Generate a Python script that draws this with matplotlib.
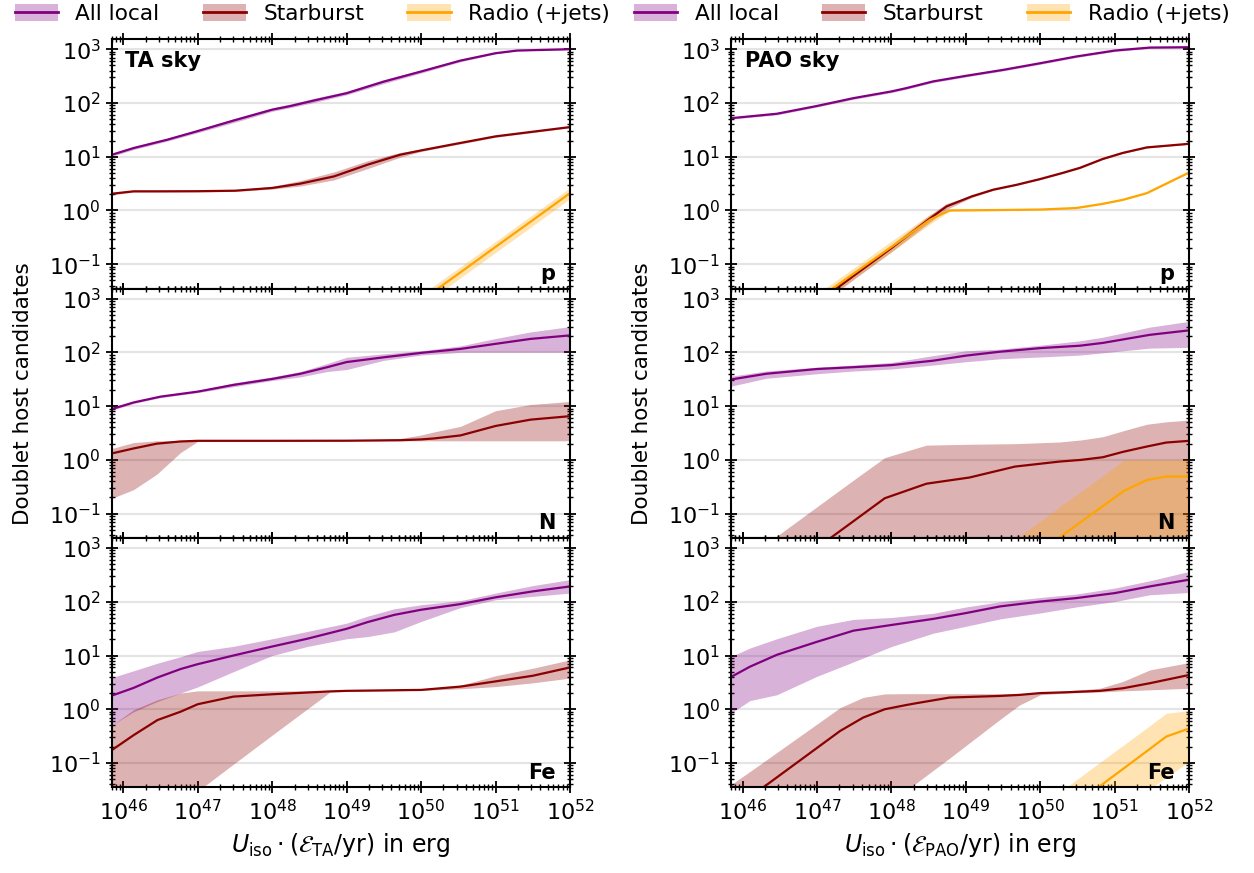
import numpy as np
import matplotlib
matplotlib.use("Agg")
import matplotlib.pyplot as plt
from matplotlib.patches import Patch
from matplotlib.lines import Line2D

# ---------------- data (x given as log10 of energy in erg) ----------------
# TA sky, protons
ta_p_all_x = [45.85, 46.14, 46.59, 47.0, 47.48, 48.0, 48.25, 48.56, 49.0, 49.5, 50.0, 50.53, 51.0, 51.29, 52.0]
ta_p_all = [10.9, 14.5, 20.7, 30, 47, 75, 88, 111, 152, 250, 385, 615, 843, 945, 1000]
ta_p_all_lo = [10.2, 13.6, 19.5, 28, 43, 70, 82, 102, 142, 230, 360, 585, 820, 930, 990]
ta_p_all_hi = [11.6, 15.5, 22, 32, 51, 81, 96, 122, 165, 272, 410, 650, 870, 960, 1010]

ta_p_sb_x = [45.85, 46.14, 46.5, 47.0, 47.5, 48.0, 48.38, 48.83, 49.28, 49.72, 50.0, 50.4, 51.0, 52.0]
ta_p_sb = [2.05, 2.27, 2.27, 2.28, 2.33, 2.62, 3.16, 4.3, 7.1, 10.9, 13.1, 16.7, 23.9, 35.6]
ta_p_sb_lo = [1.95, 2.2, 2.2, 2.22, 2.26, 2.5, 2.85, 3.7, 6.0, 9.8, 12.5, 16.0, 23.0, 34.5]
ta_p_sb_hi = [2.15, 2.35, 2.35, 2.36, 2.4, 2.8, 3.6, 5.2, 8.4, 12.0, 13.8, 17.4, 24.8, 36.7]

ta_p_rg_x = [50.0, 50.5, 51.0, 51.5, 52.0]
ta_p_rg = [0.021, 0.066, 0.21, 0.66, 2.1]
ta_p_rg_lo = [0.016, 0.052, 0.165, 0.52, 1.65]
ta_p_rg_hi = [0.027, 0.084, 0.265, 0.84, 2.65]

# PAO sky, protons
pao_p_all_x = [45.84, 46.46, 47.0, 47.49, 48.0, 48.2, 48.56, 49.0, 49.5, 50.0, 50.48, 51.0, 51.47, 52.0]
pao_p_all = [52, 63, 88, 123, 164, 189, 252, 320, 413, 550, 732, 945, 1074, 1090]
pao_p_all_lo = [50, 60, 84, 117, 156, 180, 240, 305, 395, 525, 700, 910, 1040, 1060]
pao_p_all_hi = [54, 66, 92, 129, 172, 198, 264, 335, 430, 575, 765, 980, 1105, 1120]

pao_p_sb_x = [47.0, 47.5, 48.0, 48.5, 48.74, 49.08, 49.37, 49.68, 50.0, 50.3, 50.53, 50.84, 51.11, 51.43, 52.0]
pao_p_sb = [0.019, 0.062, 0.2, 0.68, 1.19, 1.83, 2.44, 3.0, 3.85, 5.0, 6.2, 9.1, 11.8, 14.9, 17.4]
pao_p_sb_lo = [0.016, 0.053, 0.17, 0.58, 1.05, 1.75, 2.37, 2.92, 3.75, 4.85, 6.0, 8.9, 11.5, 14.5, 17.0]
pao_p_sb_hi = [0.022, 0.072, 0.23, 0.8, 1.35, 1.9, 2.5, 3.08, 3.95, 5.15, 6.4, 9.3, 12.1, 15.3, 17.8]

pao_p_rg_x = [47.0, 47.5, 48.0, 48.52, 48.78, 49.5, 50.0, 50.48, 50.84, 51.11, 51.43, 51.7, 52.0]
pao_p_rg = [0.022, 0.068, 0.21, 0.676, 1.0, 1.02, 1.04, 1.11, 1.33, 1.58, 2.1, 3.2, 5.1]
pao_p_rg_lo = [0.018, 0.055, 0.17, 0.56, 0.97, 1.0, 1.02, 1.08, 1.3, 1.54, 2.05, 3.1, 5.0]
pao_p_rg_hi = [0.028, 0.086, 0.27, 0.85, 1.04, 1.04, 1.06, 1.14, 1.36, 1.62, 2.15, 3.3, 5.2]

# TA sky, nitrogen
ta_n_all_x = [45.85, 46.14, 46.5, 47.0, 47.48, 48.0, 48.38, 48.74, 49.0, 49.5, 50.0, 50.53, 51.0, 51.47, 52.0]
ta_n_all = [8.85, 11.7, 15, 18.6, 24.8, 32, 40, 53, 66, 81, 97.8, 116, 144, 178, 207]
ta_n_all_lo = [8.4, 11.2, 14.4, 17.8, 23, 30, 35, 44, 48, 71, 89, 100, 100, 100, 100]
ta_n_all_hi = [9.3, 12.2, 15.6, 19.5, 27, 35, 44, 62, 81, 94, 107, 132, 181, 240, 302]

ta_n_sb_x = [45.85, 46.14, 46.45, 46.77, 47.0, 48.0, 49.0, 49.72, 50.0, 50.17, 50.53, 51.0, 51.47, 52.0]
ta_n_sb = [1.32, 1.63, 2.0, 2.2, 2.26, 2.26, 2.27, 2.32, 2.4, 2.5, 2.85, 4.27, 5.6, 6.5]
ta_n_sb_lo = [0.193, 0.28, 0.54, 1.37, 2.2, 2.26, 2.26, 2.26, 2.26, 2.26, 2.26, 2.26, 2.26, 2.26]
ta_n_sb_hi = [1.63, 2.1, 2.26, 2.27, 2.27, 2.27, 2.3, 2.5, 2.9, 3.3, 4.2, 8.2, 10.7, 12.2]

# PAO sky, nitrogen
pao_n_all_x = [45.84, 46.32, 47.0, 47.49, 48.0, 48.56, 49.0, 49.46, 50.0, 50.53, 50.84, 51.11, 51.47, 52.0]
pao_n_all = [31.2, 40, 49, 53, 58, 70, 87, 103, 120, 133, 150, 174, 212, 257]
pao_n_all_lo = [23.4, 33, 40, 45, 49, 58, 67, 76, 82, 89, 98, 107, 120, 124]
pao_n_all_hi = [36, 45, 53, 58, 65, 87, 107, 115, 136, 164, 192, 230, 295, 378]

pao_n_sb_x = [45.84, 46.46, 47.0, 47.5, 47.91, 48.47, 49.05, 49.66, 50.26, 50.55, 50.84, 51.11, 51.43, 51.69, 52.0]
pao_n_sb = [0.0015, 0.0065, 0.023, 0.074, 0.193, 0.36, 0.47, 0.75, 0.93, 1.0, 1.12, 1.41, 1.77, 2.1, 2.26]
pao_n_sb_lo = [0.001] * 15
pao_n_sb_hi = [0.0092, 0.038, 0.134, 0.43, 1.1, 1.88, 1.95, 2.0, 2.15, 2.35, 2.7, 3.47, 4.6, 5.1, 5.5]

pao_n_rg_x = [49.0, 49.72, 50.28, 50.7, 51.13, 51.43, 51.69, 52.0]
pao_n_rg = [0.002, 0.0105, 0.038, 0.1, 0.27, 0.42, 0.49, 0.49]
pao_n_rg_lo = [0.001] * 8
pao_n_rg_hi = [0.0073, 0.038, 0.14, 0.365, 1.0, 1.0, 1.0, 1.0]

# TA sky, iron
ta_fe_all_x = [45.85, 46.14, 46.46, 46.77, 47.0, 47.48, 48.0, 48.47, 49.0, 49.28, 49.64, 50.0, 50.53, 51.0, 51.5, 52.0]
ta_fe_all = [1.8, 2.5, 3.9, 5.6, 6.9, 10, 14.7, 20.5, 31.4, 41.8, 57, 71, 90.6, 121, 156, 193]
ta_fe_all_lo = [0.51, 0.9, 1.4, 2.0, 2.6, 5.0, 10, 14.7, 20.5, 22.5, 27.5, 43, 78, 109, 126, 145]
ta_fe_all_hi = [3.9, 5.2, 7.2, 9.5, 11.9, 14.8, 20.5, 28, 40, 54, 74, 88, 105, 145, 200, 258]

ta_fe_sb_x = [45.85, 46.14, 46.46, 46.77, 47.0, 47.48, 48.0, 48.78, 49.0, 50.0, 50.53, 51.0, 51.5, 52.0]
ta_fe_sb = [0.175, 0.33, 0.63, 0.9, 1.24, 1.72, 1.9, 2.15, 2.2, 2.29, 2.64, 3.3, 4.2, 6.0]
ta_fe_sb_lo = [0.0019, 0.0038, 0.0082, 0.017, 0.030, 0.095, 0.33, 2.1, 2.15, 2.25, 2.4, 2.64, 3.1, 3.8]
ta_fe_sb_hi = [0.51, 0.98, 1.5, 2.0, 2.2, 2.2, 2.2, 2.2, 2.22, 2.35, 2.8, 4.2, 5.8, 8.3]

# PAO sky, iron
pao_fe_all_x = [45.84, 46.1, 46.46, 47.0, 47.49, 48.0, 48.56, 49.0, 49.46, 50.0, 50.48, 51.0, 51.47, 52.0]
pao_fe_all = [3.95, 6.2, 10.3, 18, 29, 37, 48, 61.6, 82, 101, 117, 145, 193, 258]
pao_fe_all_lo = [0.84, 1.45, 1.86, 4.1, 7.6, 14.7, 26, 35, 48, 62, 80, 101, 135, 149]
pao_fe_all_hi = [9.5, 13.8, 20.5, 35, 47, 51, 61, 80, 100, 120, 139, 180, 246, 367]

pao_fe_sb_x = [45.84, 46.21, 47.31, 47.62, 47.91, 48.2, 48.34, 48.78, 49.46, 49.72, 50.0, 50.35, 50.8, 51.11, 51.47, 52.0]
pao_fe_sb = [0.013, 0.030, 0.394, 0.7, 1.0, 1.2, 1.3, 1.65, 1.77, 1.85, 2.0, 2.07, 2.2, 2.46, 3.05, 4.35]
pao_fe_sb_lo = [0.0001, 0.00025, 0.0035, 0.0075, 0.015, 0.030, 0.043, 0.123, 0.65, 1.2, 1.86, 2.0, 2.1, 2.2, 2.3, 2.46]
pao_fe_sb_hi = [0.039, 0.089, 1.07, 1.66, 1.93, 1.95, 1.95, 1.95, 1.95, 1.97, 2.0, 2.2, 2.46, 3.3, 5.4, 7.4]

pao_fe_rg_x = [50.0, 50.28, 50.71, 51.43, 51.69, 52.0]
pao_fe_rg = [0.0056, 0.011, 0.030, 0.166, 0.31, 0.44]
pao_fe_rg_lo = [0.0013, 0.0025, 0.0063, 0.030, 0.054, 0.107]
pao_fe_rg_hi = [0.0155, 0.030, 0.083, 0.45, 0.84, 0.95]

labels = ["All local", "Starburst", "Radio (+jets)"]
colors = ["purple", "darkred", "orange"]
skies = ["TA", "PAO"]
species = ["p", "N", "Fe"]

panels = {
    ("TA", "p"): [(ta_p_all_x, ta_p_all, ta_p_all_lo, ta_p_all_hi),
                  (ta_p_sb_x, ta_p_sb, ta_p_sb_lo, ta_p_sb_hi),
                  (ta_p_rg_x, ta_p_rg, ta_p_rg_lo, ta_p_rg_hi)],
    ("PAO", "p"): [(pao_p_all_x, pao_p_all, pao_p_all_lo, pao_p_all_hi),
                   (pao_p_sb_x, pao_p_sb, pao_p_sb_lo, pao_p_sb_hi),
                   (pao_p_rg_x, pao_p_rg, pao_p_rg_lo, pao_p_rg_hi)],
    ("TA", "N"): [(ta_n_all_x, ta_n_all, ta_n_all_lo, ta_n_all_hi),
                  (ta_n_sb_x, ta_n_sb, ta_n_sb_lo, ta_n_sb_hi),
                  None],
    ("PAO", "N"): [(pao_n_all_x, pao_n_all, pao_n_all_lo, pao_n_all_hi),
                   (pao_n_sb_x, pao_n_sb, pao_n_sb_lo, pao_n_sb_hi),
                   (pao_n_rg_x, pao_n_rg, pao_n_rg_lo, pao_n_rg_hi)],
    ("TA", "Fe"): [(ta_fe_all_x, ta_fe_all, ta_fe_all_lo, ta_fe_all_hi),
                   (ta_fe_sb_x, ta_fe_sb, ta_fe_sb_lo, ta_fe_sb_hi),
                   None],
    ("PAO", "Fe"): [(pao_fe_all_x, pao_fe_all, pao_fe_all_lo, pao_fe_all_hi),
                    (pao_fe_sb_x, pao_fe_sb, pao_fe_sb_lo, pao_fe_sb_hi),
                    (pao_fe_rg_x, pao_fe_rg, pao_fe_rg_lo, pao_fe_rg_hi)],
}

# ---------------- figure ----------------
W, H = 1254, 873
fig = plt.figure(figsize=(W / 100, H / 100), dpi=100)

col_left = [111.7 / W, 731.0 / W]
col_w = 458.3 / W
top_px, bot_px = 39.3, 787.5
row_h = (bot_px - top_px) / 3 / H

for ci, sky in enumerate(skies):
    for ri, sp in enumerate(species):
        y0 = 1 - (top_px / H) - (ri + 1) * row_h
        ax = fig.add_axes([col_left[ci], y0, col_w, row_h])
        ax.set_xscale("log")
        ax.set_yscale("log")
        for k, ser in enumerate(panels[(sky, sp)]):
            if ser is None:
                continue
            xs, ys, lo, hi = ser
            e = 10.0 ** np.asarray(xs)
            ax.fill_between(e, lo, hi, color=colors[k], alpha=0.3, lw=0)
            ax.plot(e, ys, color=colors[k], lw=1.6)
        ax.set_xlim(7e45, 1e52)
        ax.set_ylim(0.035, 1530)
        ax.yaxis.grid(True, which="major", color="#e4e4e4", lw=1.5)
        ax.set_axisbelow(True)
        ax.tick_params(which="both", direction="inout", top=True, right=True,
                       labelsize=16)
        ax.tick_params(which="major", length=9, width=1.3)
        ax.tick_params(which="minor", length=5, width=1.0)
        for s in ax.spines.values():
            s.set_linewidth(1.5)
        if ri < 2:
            ax.tick_params(labelbottom=False)
        else:
            ax.set_xlabel(r"$U_\mathrm{iso}\cdot(\mathcal{E}_\mathrm{%s}/\mathrm{yr})$ in erg" % sky,
                          fontsize=17, labelpad=5)
        if ri == 1:
            ax.set_ylabel("Doublet host candidates", fontsize=15.5)
            ax.yaxis.set_label_coords(-0.172, 0.58)
        if ri == 0:
            ax.text(0.03, 0.955, f"{sky} sky", transform=ax.transAxes,
                    ha="left", va="top", fontsize=15, fontweight="bold")
        ax.text(0.968, 0.02, sp, transform=ax.transAxes, ha="right",
                va="bottom", fontsize=15, fontweight="bold")

# legends above each column
handles = [(Patch(facecolor=c, alpha=0.3, lw=0), Line2D([], [], color=c, lw=2))
           for c in colors]
for xa in (14.6 / W, 634 / W):
    fig.legend(handles, labels, loc="center left", bbox_to_anchor=(xa, 1 - 14 / H),
               ncol=3, frameon=False, fontsize=15.6, borderpad=0,
               borderaxespad=0, handleheight=0.86)

fig.savefig("out.png", dpi=100)
